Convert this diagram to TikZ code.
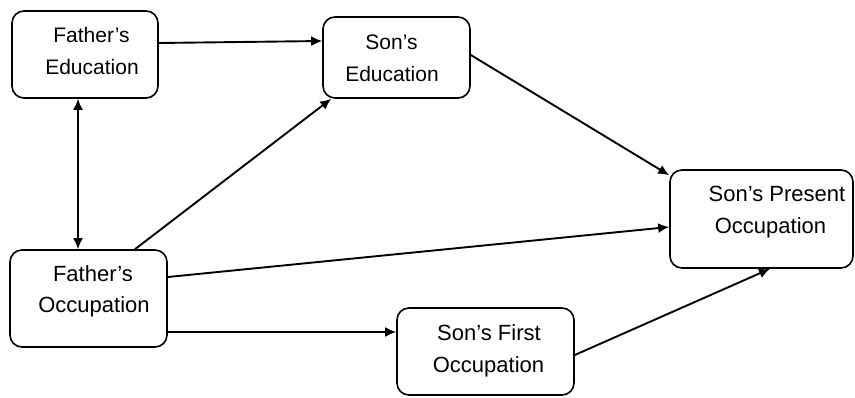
\documentclass[tikz,border=0pt]{standalone}
\usepackage{fontspec}
\setmainfont{Liberation Sans}
\usetikzlibrary{arrows.meta}
\begin{document}
\begin{tikzpicture}[x=1pt,y=-1pt,
  box/.style={draw=black, line width=1.6pt, rounded corners=12pt, inner sep=0pt},
  lbl/.style={anchor=base, inner sep=0pt, font=\fontsize{22}{26}\selectfont},
  lbls/.style={anchor=base, inner sep=0pt, font=\fontsize{21}{26}\selectfont},
  conn/.style={line width=1.9pt, -{Latex[length=11pt,width=10pt]}},
  dconn/.style={line width=1.9pt, {Latex[length=11pt,width=10pt]}-{Latex[length=11pt,width=10pt]}}
]
\useasboundingbox (0,0) rectangle (855,398);
\node[box, minimum width=146pt, minimum height=87pt] (FE) at (85,54.5) {};
\node[box, minimum width=147pt, minimum height=81pt] (SE) at (396.5,57.5) {};
\node[box, minimum width=183pt, minimum height=98pt] (SPO) at (761.5,219) {};
\node[box, minimum width=157pt, minimum height=97pt] (FO) at (88.5,298.5) {};
\node[box, minimum width=177pt, minimum height=87pt] (SFO) at (485.5,351.5) {};

\node[lbls] (FEt1) at (91.5,43) {Father’s};
\node[lbls] (FEt2) at (92,75) {Education};
\node[lbls] (SEt1) at (391.5,50) {Son’s};
\node[lbls] (SEt2) at (392,82) {Education};
\node[lbl] (SPOt1) at (777,202) {Son’s Present};
\node[lbl] (SPOt2) at (770.5,234) {Occupation};
\node[lbl] (FOt1) at (93,282) {Father’s};
\node[lbl] (FOt2) at (94,313) {Occupation};
\node[lbl] (SFOt1) at (489,341) {Son’s First};
\node[lbl] (SFOt2) at (488.5,373) {Occupation};

\draw[conn] ([yshift=11.5pt]FE.east) -- ([yshift=16.5pt]SE.west);
\draw[dconn] ([xshift=-7pt]FE.south) -- ([xshift=-10.5pt]FO.north);
\draw[conn] ([xshift=46.5pt]FO.north) -- ([xshift=9pt]SE.south west);
\draw[conn] ([yshift=2.5pt]SE.east) -- ([yshift=-6pt]SPO.north west);
\draw[conn] ([yshift=21.5pt]FO.east) -- ([yshift=-8pt]SPO.west);
\draw[conn] ([yshift=-33.5pt]FO.east) -- ([yshift=19.5pt]SFO.west);
\draw[conn] ([yshift=-3.5pt]SFO.east) -- ([xshift=8.5pt]SPO.south);
\end{tikzpicture}
\end{document}
